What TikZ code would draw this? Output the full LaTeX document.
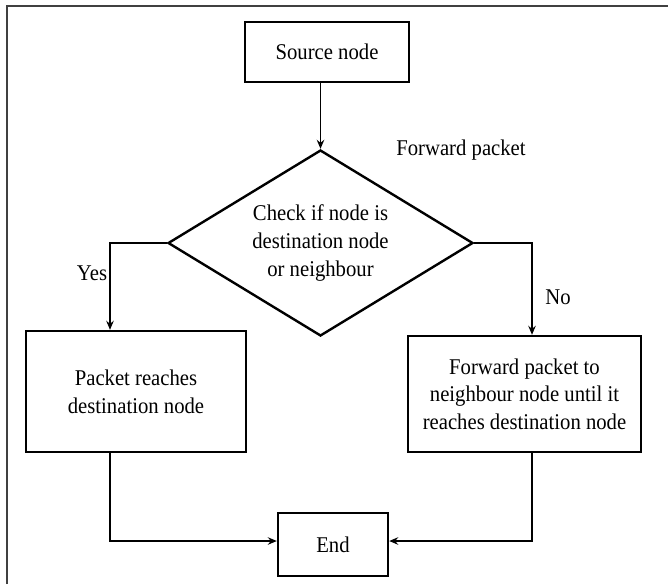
\documentclass[tikz,border=0pt]{standalone}
\usepackage{fontspec}
\setmainfont{Liberation Serif}[FakeStretch=0.92]
\usetikzlibrary{shapes.geometric,arrows.meta,positioning,calc}

\begin{document}
\begin{tikzpicture}[
  x=1pt, y=-1pt,
  font=\fontsize{22.5}{27.7}\selectfont,
  block/.style={draw, rectangle, line width=2.4pt, align=center, inner sep=0pt},
  decision/.style={draw, diamond, aspect=1.66, line width=2.4pt, align=center, inner sep=0pt},
  arr/.style={line width=1.6pt, -{Stealth[length=9pt, width=7.5pt, inset=3pt]}},
  frame/.style={line width=1.8pt, black!75},
]
\useasboundingbox (0,0) rectangle (668,584);

% page border, only top and left are visible
\draw[frame] (7,584) -- (7,6) -- (668,6);

\node (src) [block, minimum width=164pt, minimum height=60pt] at (327, 52) {Source node};
\node (check) [decision, minimum width=305pt, minimum height=186pt] at (320.5, 243)
  {Check if node is\\destination node\\or neighbour};
\node (reach) [block, minimum width=220pt, minimum height=121pt] at (136, 391.5)
  {Packet reaches\\destination node};
\node (fwd) [block, minimum width=233pt, minimum height=116pt] at (524.5, 394)
  {Forward packet to\\neighbour node until it\\reaches destination node};
\node (end) [block, minimum width=110pt, minimum height=63pt] at (333, 544.5) {End};

\node (fwdlbl) at (461, 150) {Forward packet};
\node (yes) at (92, 273) {Yes};
\node (no) at (558, 297) {No};

\draw[arr] (src.south -| check.north) -- (check.north);
\draw[arr] (check.west) -| ([xshift=-26pt]reach.north);
\draw[arr] (check.east) -| ([xshift=7.5pt]fwd.north);
\draw[arr] ([xshift=-26pt]reach.south) |- ([yshift=3.5pt]end.west);
\draw[arr] ([xshift=7.5pt]fwd.south) |- ([yshift=3.5pt]end.east);

\end{tikzpicture}
\end{document}
